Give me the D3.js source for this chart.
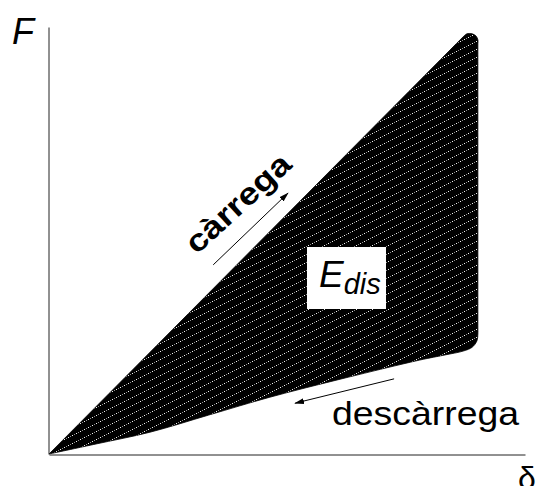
<!DOCTYPE html>
<html>
<head>
<meta charset="utf-8">
<script src="https://cdn.jsdelivr.net/npm/d3@7"></script>
<style>
  html, body { margin: 0; padding: 0; background: #fff; }
  svg { display: block; }
  text { font-family: "Liberation Sans", Arial, sans-serif; }
</style>
</head>
<body>
<script>
// ---- data (normalised δ and F) ----
const loadingDelta   = [0, 0.870];
const loadingF       = [0, 0.977];
const peakDelta      = [0.878, 0.889, 0.897, 0.901, 0.901, 0.901];
const peakF          = [0.984, 0.984, 0.979, 0.970, 0.958, 0.900];
const unloadingDelta = [0.901, 0.901, 0.899, 0.889, 0.870, 0.832, 0.779, 0.622, 0.464, 0.338, 0.212, 0.101, 0];
const unloadingF     = [0.300, 0.281, 0.265, 0.250, 0.241, 0.232, 0.220, 0.178, 0.133, 0.092, 0.051, 0.024, 0];
const axisLabels     = { x: "δ", y: "F" };
const curveLabels    = ["càrrega", "descàrrega"];
const energyLabel    = ["E", "dis"];
const arrowsDelta    = [[0.345, 0.502], [0.725, 0.517]];
const arrowsF        = [[0.443, 0.611], [0.176, 0.119]];

const W = 538, H = 486;
const svg = d3.select("body").append("svg").attr("width", W).attr("height", H);

const x = d3.scaleLinear().domain([0, 1]).range([49, 525]);
const y = d3.scaleLinear().domain([0, 1]).range([454, 27]);

// pattern: black with dotted diagonal rows
const defs = svg.append("defs");
const pat = defs.append("pattern")
  .attr("id", "hatch").attr("patternUnits", "userSpaceOnUse")
  .attr("width", 16).attr("height", 8);
pat.append("rect").attr("width", 16).attr("height", 8).attr("fill", "#000");
d3.range(8).forEach(k => {
  pat.append("rect").attr("x", 2 * k).attr("y", 7 - k).attr("width", 1).attr("height", 1)
    .attr("fill", k % 2 ? "#8a8a8a" : "#f0f0f0").attr("shape-rendering", "crispEdges");
});

defs.append("marker").attr("id", "ah").attr("viewBox", "0 0 10 10")
  .attr("refX", 9).attr("refY", 5).attr("markerWidth", 10).attr("markerHeight", 10)
  .attr("markerUnits", "userSpaceOnUse").attr("orient", "auto")
  .append("path").attr("d", "M0,2 L10,5 L0,8 Z").attr("fill", "#000");

// hysteresis region
const loadPts = loadingDelta.map((d, i) => [d, loadingF[i]]);
const restPts = [[loadingDelta[1], loadingF[1]]]
  .concat(peakDelta.map((d, i) => [d, peakF[i]]))
  .concat(unloadingDelta.map((d, i) => [d, unloadingF[i]]));

const lineLin = d3.line().x(d => x(d[0])).y(d => y(d[1])).curve(d3.curveLinear);
const lineCurve = d3.line().x(d => x(d[0])).y(d => y(d[1])).curve(d3.curveCatmullRom.alpha(0.5));
const pathD = lineLin(loadPts) + lineCurve(restPts).replace(/^M/, "L") + "Z";
svg.append("path").attr("d", pathD).attr("fill", "url(#hatch)").attr("stroke", "#000").attr("stroke-width", 0.8);

// axes
const xAxis = d3.axisBottom(x).tickValues([]).tickSizeOuter(0);
const yAxis = d3.axisLeft(y).tickValues([]).tickSizeOuter(0);
svg.append("g").attr("transform", `translate(0,${y(0) + 0.5})`).call(xAxis)
  .select(".domain").attr("stroke", "#222");
svg.append("g").attr("transform", `translate(${x(0) - 0.5},0)`).call(yAxis)
  .select(".domain").attr("stroke", "#222");

// axis labels
svg.append("text").attr("x", 12).attr("y", 44).attr("font-size", 36)
  .attr("font-style", "italic").text(axisLabels.y);
svg.append("text").attr("x", 518).attr("y", 489).attr("font-size", 32).text(axisLabels.x);

// arrows
arrowsDelta.forEach((a, i) => {
  svg.append("line")
    .attr("x1", x(a[0])).attr("y1", y(arrowsF[i][0]))
    .attr("x2", x(a[1])).attr("y2", y(arrowsF[i][1]))
    .attr("stroke", "#000").attr("stroke-width", 1)
    .attr("marker-end", "url(#ah)");
});

// curve labels
svg.append("text")
  .attr("transform", "translate(245,211) rotate(-42.5)")
  .attr("text-anchor", "middle").attr("font-size", 31).attr("font-weight", "bold")
  .attr("textLength", 131).attr("lengthAdjust", "spacingAndGlyphs")
  .text(curveLabels[0]);
svg.append("text")
  .attr("x", 332).attr("y", 425).attr("font-size", 33)
  .attr("textLength", 187).attr("lengthAdjust", "spacingAndGlyphs")
  .text(curveLabels[1]);

// energy label
svg.append("rect").attr("x", 307).attr("y", 247).attr("width", 79).attr("height", 62).attr("fill", "#fff");
const et = svg.append("text").attr("x", 319).attr("y", 287).attr("font-style", "italic");
et.append("tspan").attr("font-size", 37).text(energyLabel[0]);
et.append("tspan").attr("font-size", 29).attr("dy", 7).text(energyLabel[1]);
</script>
</body>
</html>
